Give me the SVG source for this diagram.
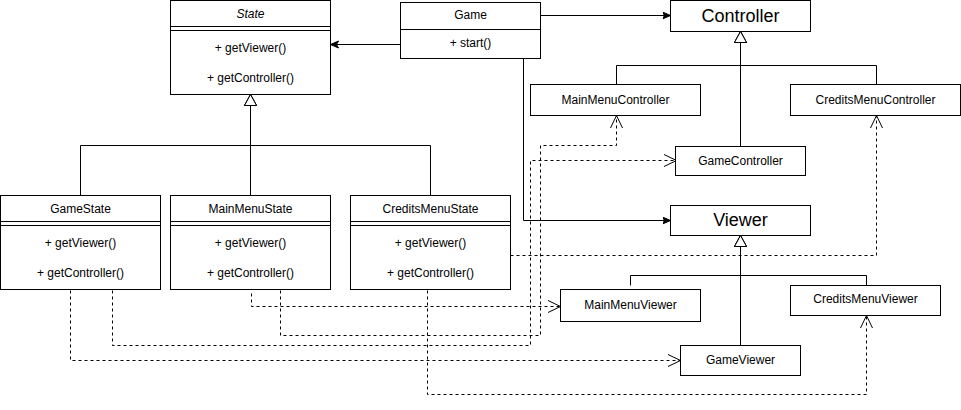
<svg xmlns="http://www.w3.org/2000/svg" width="961" height="410" viewBox="0 0 961 410">
<style>
  .box { fill: #ffffff; stroke: #000000; stroke-width: 1; }
  .sep { stroke: #000000; stroke-width: 1; fill: none; }
  .t { font-family: "Liberation Sans", Arial, sans-serif; font-size: 12px; fill: #000000; text-anchor: middle; dominant-baseline: central; }
  .big { font-size: 18px; }
  .it { font-style: italic; }
  .line { fill: none; stroke: #000000; stroke-width: 1; }
  .dash { fill: none; stroke: #000000; stroke-width: 1; stroke-dasharray: 3 3; }
</style>
<defs>
  <marker id="filled" markerUnits="userSpaceOnUse" markerWidth="10" markerHeight="10" refX="8" refY="4" orient="auto">
    <path d="M0,0.5 L8,4 L0,7.5 L2,4 Z" fill="#000000" stroke="#000000" stroke-width="1"/>
  </marker>
  <marker id="open" markerUnits="userSpaceOnUse" markerWidth="16" markerHeight="16" refX="13" refY="7" orient="auto">
    <path d="M0.5,1 L13,7 L0.5,13" fill="none" stroke="#000000" stroke-width="1"/>
  </marker>
  <marker id="tri" markerUnits="userSpaceOnUse" markerWidth="14" markerHeight="14" refX="11.5" refY="6.5" orient="auto">
    <path d="M0.5,0.5 L11.5,6.5 L0.5,12.5 Z" fill="#ffffff" stroke="#000000" stroke-width="1"/>
  </marker>
</defs>

<g id="connectors">
  <!-- associations -->
  <path class="line" d="M400.5,44.5 L330.5,44.5" marker-end="url(#filled)"/>
  <path class="line" d="M540.5,15.5 L670.5,15.5" marker-end="url(#filled)"/>
  <path class="line" d="M523.5,58.5 L523.5,220.5 L670.5,220.5" marker-end="url(#filled)"/>
  <!-- generalizations: states -->
  <path class="line" d="M80.5,195.5 L80.5,145.5 L250.5,145.5 L250.5,94.5" marker-end="url(#tri)"/>
  <path class="line" d="M250.5,195.5 L250.5,94.5" marker-end="url(#tri)"/>
  <path class="line" d="M430.5,195.5 L430.5,145.5 L250.5,145.5 L250.5,94.5" marker-end="url(#tri)"/>
  <!-- generalizations: controllers -->
  <path class="line" d="M616.5,84.5 L616.5,65.5 L740.5,65.5 L740.5,31.5" marker-end="url(#tri)"/>
  <path class="line" d="M740.5,146.5 L740.5,31.5" marker-end="url(#tri)"/>
  <path class="line" d="M876.5,84.5 L876.5,65.5 L740.5,65.5 L740.5,31.5" marker-end="url(#tri)"/>
  <!-- generalizations: viewers -->
  <path class="line" d="M630.5,285.5 L630.5,275.5 L740.5,275.5 L740.5,235.5" marker-end="url(#tri)"/>
  <path class="line" d="M740.5,345.5 L740.5,235.5" marker-end="url(#tri)"/>
  <path class="line" d="M866.5,285.5 L866.5,275.5 L740.5,275.5 L740.5,235.5" marker-end="url(#tri)"/>
  <!-- dependencies -->
  <path class="dash" d="M70.5,290.5 L70.5,360.5 L680.5,360.5" marker-end="url(#open)"/>
  <path class="dash" d="M112.5,290.5 L112.5,345.5 L530.5,345.5 L530.5,160.5 L676.5,160.5" marker-end="url(#open)"/>
  <path class="dash" d="M251.5,293.5 L251.5,306.5 L560.5,306.5" marker-end="url(#open)"/>
  <path class="dash" d="M280.5,290.5 L280.5,335.5 L540.5,335.5 L540.5,145.5 L616.5,145.5 L616.5,115.5" marker-end="url(#open)"/>
  <path class="dash" d="M427.5,290.5 L427.5,394.5 L866.5,394.5 L866.5,315.5" marker-end="url(#open)"/>
  <path class="dash" d="M510.5,255.5 L876.5,255.5 L876.5,115.5" marker-end="url(#open)"/>
</g>

<g id="State">
  <rect class="box" x="170.5" y="0.5" width="160" height="94"/>
  <path class="sep" d="M170.5,26.5 H330.5 M170.5,30.5 H330.5"/>
  <text class="t it" x="250.5" y="14">State</text>
  <text class="t" x="250.5" y="48">+ getViewer()</text>
  <text class="t" x="250.5" y="78">+ getController()</text>
</g>

<g id="Game">
  <rect class="box" x="400.5" y="2.5" width="140" height="56"/>
  <path class="sep" d="M400.5,29.5 H540.5"/>
  <text class="t" x="470.5" y="15">Game</text>
  <text class="t" x="470.5" y="43">+ start()</text>
</g>

<g id="Controller">
  <rect class="box" x="670.5" y="0.5" width="140" height="31"/>
  <text class="t big" x="740.5" y="16">Controller</text>
</g>

<g id="MainMenuController">
  <rect class="box" x="530.5" y="84.5" width="170" height="31"/>
  <text class="t" x="615.5" y="99.5">MainMenuController</text>
</g>

<g id="CreditsMenuController">
  <rect class="box" x="790.5" y="84.5" width="170" height="31"/>
  <text class="t" x="875.5" y="99.5">CreditsMenuController</text>
</g>

<g id="GameController">
  <rect class="box" x="675.5" y="146.5" width="130" height="29"/>
  <text class="t" x="740.5" y="160.5">GameController</text>
</g>

<g id="Viewer">
  <rect class="box" x="670.5" y="205.5" width="140" height="30"/>
  <text class="t big" x="740.5" y="220">Viewer</text>
</g>

<g id="MainMenuViewer">
  <rect class="box" x="560.5" y="289.5" width="140" height="32"/>
  <text class="t" x="630.5" y="304.5">MainMenuViewer</text>
</g>

<g id="CreditsMenuViewer">
  <rect class="box" x="790.5" y="285.5" width="150" height="30"/>
  <text class="t" x="865.5" y="299">CreditsMenuViewer</text>
</g>

<g id="GameViewer">
  <rect class="box" x="680.5" y="345.5" width="120" height="30"/>
  <text class="t" x="740.5" y="359.5">GameViewer</text>
</g>

<g id="GameState">
  <rect class="box" x="0.5" y="195.5" width="160" height="94"/>
  <path class="sep" d="M0.5,221.5 H160.5 M0.5,225.5 H160.5"/>
  <text class="t" x="80.5" y="209">GameState</text>
  <text class="t" x="80.5" y="243">+ getViewer()</text>
  <text class="t" x="80.5" y="273">+ getController()</text>
</g>

<g id="MainMenuState">
  <rect class="box" x="170.5" y="195.5" width="160" height="94"/>
  <path class="sep" d="M170.5,221.5 H330.5 M170.5,225.5 H330.5"/>
  <text class="t" x="250.5" y="209">MainMenuState</text>
  <text class="t" x="250.5" y="243">+ getViewer()</text>
  <text class="t" x="250.5" y="273">+ getController()</text>
</g>

<g id="CreditsMenuState">
  <rect class="box" x="350.5" y="195.5" width="160" height="94"/>
  <path class="sep" d="M350.5,221.5 H510.5 M350.5,225.5 H510.5"/>
  <text class="t" x="430.5" y="209">CreditsMenuState</text>
  <text class="t" x="430.5" y="243">+ getViewer()</text>
  <text class="t" x="430.5" y="273">+ getController()</text>
</g>
</svg>
